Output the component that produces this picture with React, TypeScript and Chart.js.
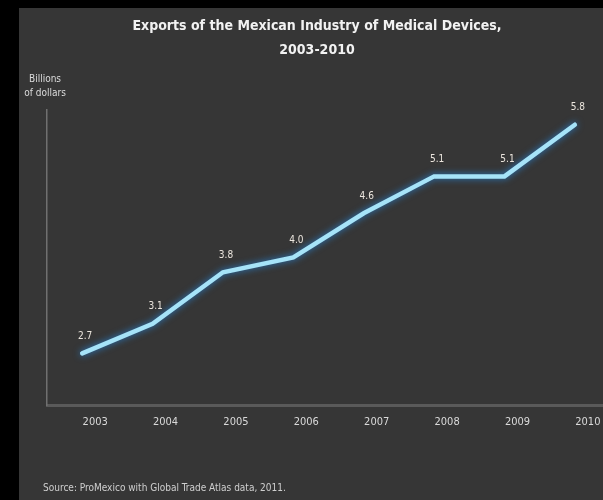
import React, { useEffect, useRef } from 'react';
import { Chart, registerables } from 'chart.js';

Chart.register(...registerables);

const years = [2003, 2004, 2005, 2006, 2007, 2008, 2009, 2010];
const exportsBn = [2.7, 3.1, 3.8, 4.0, 4.6, 5.1, 5.1, 5.8];
const titleLines = ['Exports of the Mexican Industry of Medical Devices,', '2003-2010'];
const unitLines = ['Billions', 'of dollars'];
const sourceText = 'Source: ProMexico with Global Trade Atlas data, 2011.';

const FONT = "'Liberation Sans Narrow', 'DejaVu Sans Condensed', 'Open Sans', sans-serif";

const decorPlugin = {
  id: 'decor',
  beforeDatasetDraw(chart: any) {
    const ctx = chart.ctx;
    ctx.save();
    ctx.shadowColor = 'rgba(40,130,210,0.95)';
    ctx.shadowBlur = 7;
  },
  afterDatasetDraw(chart: any) {
    chart.ctx.restore();
  },
  afterDraw(chart: any) {
    const ctx = chart.ctx;
    const area = chart.chartArea;
    ctx.save();
    // data labels
    const meta = chart.getDatasetMeta(0);
    ctx.font = `10px ${FONT}`;
    ctx.fillStyle = '#ece6de';
    ctx.textAlign = 'center';
    ctx.textBaseline = 'middle';
    meta.data.forEach((el: any, i: number) => {
      ctx.fillText(exportsBn[i].toFixed(1), el.x + 3, el.y - 17);
    });
    // unit label
    ctx.fillStyle = '#dcdcdc';
    ctx.font = `10px ${FONT}`;
    unitLines.forEach((t, i) => {
      ctx.fillText(t, area.left - 2, area.top - 31 + i * 14);
    });
    // source
    ctx.textAlign = 'left';
    ctx.fillStyle = '#cfcfcf';
    ctx.font = `10px ${FONT}`;
    ctx.fillText(sourceText, area.left - 4, chart.height - 12);
    ctx.restore();
  },
};

export default function App() {
  const ref = useRef<HTMLCanvasElement | null>(null);
  useEffect(() => {
    if (!ref.current) return;
    const chart = new Chart(ref.current, {
      type: 'line',
      data: {
        datasets: [
          {
            data: years.map((y, i) => ({ x: y, y: exportsBn[i] })),
            borderColor: '#a6e3f8',
            borderWidth: 4.5,
            pointRadius: 0,
            tension: 0,
            borderCapStyle: 'round',
            borderJoinStyle: 'miter',
          },
        ],
      },
      options: {
        animation: false,
        responsive: false,
        devicePixelRatio: 1,
        layout: { padding: { left: 12, right: 0, top: 0, bottom: 0 } },
        plugins: {
          legend: { display: false },
          tooltip: { enabled: false },
          title: {
            display: true,
            text: titleLines,
            color: '#f2f2f2',
            font: { family: FONT, size: 14, weight: 'bold', lineHeight: '24px' },
            padding: { top: 6, bottom: 48 },
          },
        },
        scales: {
          x: {
            type: 'linear',
            min: 2002.5,
            max: 2010.4,
            afterBuildTicks: (axis: any) => {
              axis.ticks = years.map((v) => ({ value: v }));
            },
            afterFit: (axis: any) => {
              axis.height = 95;
            },
            grid: { display: false, drawTicks: false },
            border: { display: true, color: '#5a5a5a', width: 3 },
            ticks: {
              color: '#dadada',
              font: { family: FONT, size: 11 },
              padding: 11,
              labelOffset: 13,
              maxRotation: 0,
              autoSkip: false,
              callback: (v: any) => String(v),
            },
          },
          y: {
            min: 2,
            max: 6,
            ticks: { display: false },
            grid: { display: false, drawTicks: false },
            border: { display: true, color: '#707070', width: 1.5 },
            afterFit: (axis: any) => {
              axis.width = 16;
            },
          },
        },
      },
      plugins: [decorPlugin],
    } as any);
    return () => chart.destroy();
  }, []);

  return (
    <div style={{ position: 'fixed', inset: 0, background: '#000' }}>
      <div
        style={{
          position: 'absolute',
          left: 19,
          top: 8,
          width: 584,
          height: 492,
          background: '#363636',
        }}
      >
        <canvas ref={ref} width={584} height={492} style={{ display: 'block', width: 584, height: 492 }} />
      </div>
    </div>
  );
}
